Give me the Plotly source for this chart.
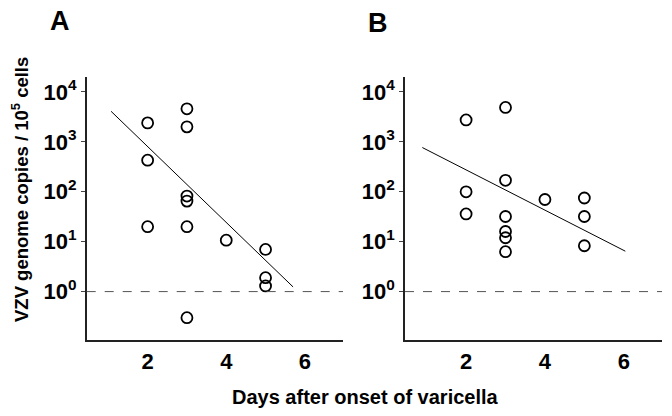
import plotly.graph_objects as go

# Panel A data (days after onset, VZV genome copies / 10^5 cells)
days_a = [2, 2, 2, 3, 3, 3, 3, 3, 3, 4, 5, 5, 5]
copies_a = [2400, 430, 20, 4600, 2000, 82, 65, 20, 0.3, 10.7, 7, 1.9, 1.3]
fit_days_a = [1.07, 5.70]
fit_copies_a = [4100, 1.24]

# Panel B data
days_b = [2, 2, 2, 3, 3, 3, 3, 3, 3, 4, 5, 5, 5]
copies_b = [2750, 100, 36, 4900, 170, 32, 16, 12, 6.3, 70, 75, 32, 8.3]
fit_days_b = [0.89, 6.04]
fit_copies_b = [770, 6.45]

detection_limit = 1
x_ticks = [2, 4, 6]
y_tick_vals = [1, 10, 100, 1000, 10000]
y_tick_text = ["10<sup>0</sup>", "10<sup>1</sup>", "10<sup>2</sup>", "10<sup>3</sup>", "10<sup>4</sup>"]
panel_labels = ["A", "B"]
x_title = "Days after onset of varicella"
y_title = "VZV genome copies / 10<sup>5</sup> cells"

FONT = "Liberation Sans"
fig = go.Figure()

marker = dict(symbol="circle-open", size=11, color="black", line=dict(width=1.8, color="black"))

fig.add_trace(go.Scatter(x=days_a, y=copies_a, mode="markers", marker=marker, xaxis="x", yaxis="y", showlegend=False))
fig.add_trace(go.Scatter(x=fit_days_a, y=fit_copies_a, mode="lines", line=dict(color="black", width=1), xaxis="x", yaxis="y", showlegend=False))
fig.add_trace(go.Scatter(x=days_b, y=copies_b, mode="markers", marker=marker, xaxis="x2", yaxis="y2", showlegend=False))
fig.add_trace(go.Scatter(x=fit_days_b, y=fit_copies_b, mode="lines", line=dict(color="black", width=1), xaxis="x2", yaxis="y2", showlegend=False))

xr = [0.45, 6.97]
yr = [-0.97, 4.3]
ydom = [1 - 340 / 416, 1 - 77 / 416]

xcommon = dict(range=xr, tickvals=x_ticks, showgrid=False, zeroline=False, showline=True,
               linecolor="#222", linewidth=1.5, ticks="outside", ticklen=1, tickcolor="rgba(0,0,0,0)",
               tickfont=dict(family=FONT, size=22, color="black", weight="bold"))
ycommon = dict(type="log", range=yr, tickvals=y_tick_vals, ticktext=y_tick_text, showgrid=False,
               zeroline=False, showline=True, linecolor="#222", linewidth=1.5, ticks="outside",
               ticklen=4, tickcolor="#444", tickwidth=1, domain=ydom,
               tickfont=dict(family=FONT, size=22, color="black", weight="bold"))

fig.update_layout(
    width=672, height=416,
    margin=dict(l=0, r=0, t=0, b=0),
    paper_bgcolor="white", plot_bgcolor="white",
    xaxis=dict(domain=[86.7 / 672, 343 / 672], anchor="y", **xcommon),
    yaxis=dict(anchor="x", **ycommon),
    xaxis2=dict(domain=[405 / 672, 662 / 672], anchor="y2", **xcommon),
    yaxis2=dict(anchor="x2", **ycommon),
)

for xref in ["x", "x2"]:
    yref = "y" if xref == "x" else "y2"
    fig.add_shape(type="line", xref=f"{xref} domain", yref=yref, x0=0, x1=1,
                  y0=detection_limit, y1=detection_limit,
                  line=dict(color="#555", width=1, dash="dash"))

def ann(text, x, y, size, angle=0):
    fig.add_annotation(text=text, x=x / 672, y=1 - y / 416, xref="paper", yref="paper",
                       xanchor="center", yanchor="middle", showarrow=False, textangle=angle,
                       font=dict(family=FONT, size=size, color="black", weight="bold"))

ann(panel_labels[0], 60, 21, 27)
ann(panel_labels[1], 378, 23, 27)
ann(x_title, 366, 397, 20)
ann(y_title, 20, 190, 18.5, -90)

fig.write_html("out.html", config={"displayModeBar": False},
               post_script="document.body.style.margin='0';")
